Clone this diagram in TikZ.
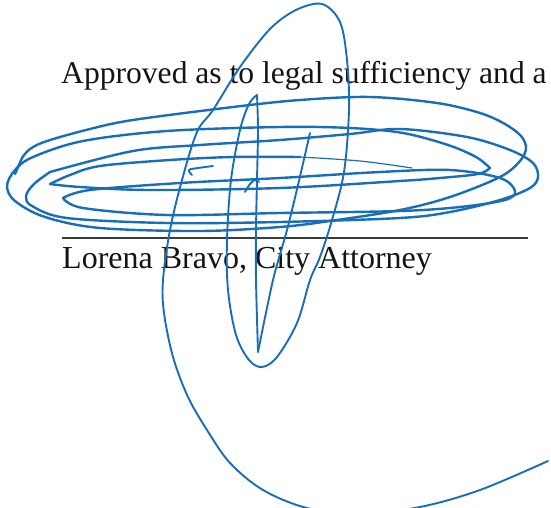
\documentclass[tikz,border=0pt]{standalone}
\usepackage{fontspec}
\setmainfont{Liberation Serif}
\definecolor{ink}{RGB}{24,110,184}
\definecolor{txt}{RGB}{20,20,20}
\definecolor{rule}{RGB}{60,60,60}
\begin{document}
\begin{tikzpicture}[x=1pt,y=-1pt,
  sig/.style={draw=ink,line width=2.4pt,line cap=round,line join=round},
  sigthin/.style={draw=ink,line width=1.9pt,line cap=round,line join=round},
  tail/.style={draw=ink,line width=1.2pt,line cap=round},
  label/.style={inner sep=0pt,anchor=base west,text=txt,font=\fontsize{32}{36}\selectfont}]
\useasboundingbox (0,0) rectangle (551,508);
\clip (0,0) rectangle (551,508);
\fill[white] (0,0) rectangle (551,508);
% texts
\node[label,font=\fontsize{31.6}{36}\selectfont] (approved) at (61,84) {Approved as to legal sufficiency and a};
\coordinate (ruleL) at (62,238);
\coordinate (ruleR) at (528,238);
\draw[rule,line width=1.1pt] (ruleL) -- (ruleR);
\node[label] (lorena) at (62,268) {Lorena Bravo, City Attorney};
% horizontal loops
\draw[sig] (15,174) -- (22,158);
\draw[sig] plot[smooth,tension=0.55] coordinates {(22,158) (30,149) (47,141) (90,129) (133,120) (233,107) (300,100) (370,97) (437,103) (480,113) (505,124) (521,136) (526,148) (520,161) (500,177) (450,197) (400,210) (330,221) (280,227) (200,231) (100,228) (45,217) (15,201) (7,186) (15,170) (33,157) (83,141) (167,131) (280,127) (350,128) (403,133) (448,145) (476,157) (490,168)};
\draw[sig] plot[smooth,tension=0.55] coordinates {(490,168) (478,174) (440,178) (400,181) (280,188) (150,190) (80,187) (50,184)};
\draw[sig] plot[smooth,tension=0.55] coordinates {(50,184) (70,175) (100,166) (170,160) (233,157) (300,157)};
\draw[tail] plot[smooth,tension=0.55] coordinates {(300,157) (360,161) (412,168)};
\draw[sig] plot[smooth,tension=0.55] coordinates {(50,172) (133,151) (200,145) (280,140) (350,134) (400,129) (467,137) (510,150) (533,163) (538,177) (530,188) (500,200) (450,212) (400,218) (280,222) (167,223) (67,218) (32,206) (26,196) (34,184) (50,172)};
\draw[sig] plot[smooth,tension=0.55] coordinates {(63,198) (90,190) (180,183) (280,178) (380,172) (450,170) (500,178) (515,191) (505,200) (460,207) (400,211) (280,213) (167,215) (83,208) (63,198)};
% small marks
\draw[sigthin] plot[smooth,tension=0.6] coordinates {(213,166) (198,168) (189,170) (192,175)};
\draw[sigthin] plot[smooth,tension=0.6] coordinates {(245,192) (250,184) (255,180) (259,182)};
% vertical strokes
\draw[sigthin] plot[smooth,tension=0.5] coordinates {(310,133) (298,185) (287,230) (273,280) (258,352)};
\draw[sigthin] plot[smooth,tension=0.5] coordinates {(258,352) (256,280) (256,230) (257,180) (258,130) (257,95)};
\draw[sigthin] plot[smooth,tension=0.55] coordinates {(257,95) (249,104) (240,130) (231,180) (227,240) (228,290) (236,335) (249,360) (262,367) (277,357) (297,323) (310,280) (320,257) (332,220) (344,172) (349,110) (347,60) (340,22) (322,4) (296,10) (270,29) (240,67) (213,110) (197,132) (182,180) (170,230) (163,280) (164,313) (173,357) (188,397) (207,430) (230,463) (263,490) (307,508) (360,514) (420,507) (480,490) (548,461)};
\end{tikzpicture}
\end{document}
